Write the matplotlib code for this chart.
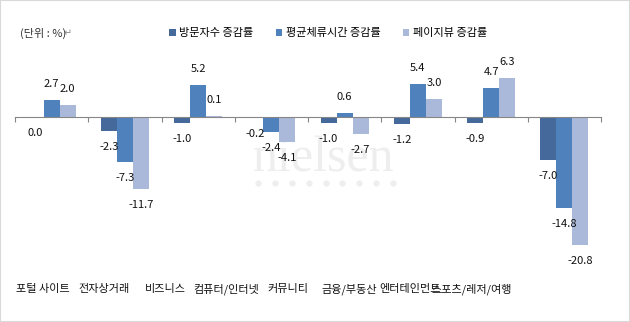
import matplotlib.pyplot as plt
from matplotlib.patches import Rectangle
import numpy as np

plt.rcParams['font.family'] = ['Noto Sans CJK KR', 'DejaVu Sans']

categories = ['포털 사이트', '전자상거래', '비즈니스', '컴퓨터/인터넷',
              '커뮤니티', '금융/부동산', '엔터테인먼트', '스포츠/레저/여행']
series_names = ['방문자수 증감률', '평균체류시간 증감률', '페이지뷰 증감률']
visitors = [0.0, -2.3, -1.0, -0.2, -1.0, -1.2, -0.9, -7.0]
stay_time = [2.7, -7.3, 5.2, -2.4, 0.6, 5.4, 4.7, -14.8]
page_views = [2.0, -11.7, 0.1, -4.1, -2.7, 3.0, 6.3, -20.8]

colors = ['#44699A', '#4F81BD', '#AAB9D9']

W, H = 630, 322
fig = plt.figure(figsize=(W / 100, H / 100), dpi=100)

# plot area in pixels: x 15..601, y 40..260 (zero line at y=117)
ax = fig.add_axes([15 / W, 1 - 260 / H, (601 - 15) / W, (260 - 40) / H])
ax.set_zorder(2)
ax.set_xlim(0, len(categories))
ax.set_ylim(-(260 - 117) / 6.15, (117 - 40) / 6.15)

x = np.arange(len(categories)) + 0.5
bw = 0.219
for i, (vals, c, name) in enumerate(zip([visitors, stay_time, page_views], colors, series_names)):
    xs = x + (i - 1) * bw
    ax.bar(xs, vals, width=bw, color=c, label=name, zorder=2)
    for xi, v in zip(xs, vals):
        off = 11.5 if v > 0 else -11.5
        ax.annotate(f'{v:.1f}', (xi, v), xytext=(0, off), textcoords='offset points',
                    ha='center', va='center', fontsize=8, color='#111111', zorder=4)

for s in ['top', 'right', 'left']:
    ax.spines[s].set_visible(False)
ax.spines['bottom'].set_position(('data', 0))
ax.spines['bottom'].set_color('#868686')
ax.spines['bottom'].set_zorder(3)
ax.set_xticks(np.arange(len(categories) + 1))
ax.set_xticklabels([])
ax.tick_params(axis='x', direction='out', length=3.6, color='#868686')
ax.set_yticks([])
ax.patch.set_visible(False)

# watermark (behind the plot)
fig.text(253 / W, 1 - 172 / H, 'nielsen', fontsize=36, family='Liberation Serif',
         color='#eeeeee', ha='left', va='baseline', zorder=0)
dot_x = np.linspace(258, 393, 9) / W
fig.add_artist(plt.Line2D(dot_x, [1 - 183 / H] * 9, transform=fig.transFigure,
                          linestyle='none', marker='o', markersize=3.5,
                          color='#eeeeee', zorder=0))

# category labels (text row, not aligned with the axis)
for i, cat in enumerate(categories):
    fig.text((43 + 61.2 * i) / W, 1 - 289 / H, cat, ha='center', va='center',
             fontsize=8, color='#111111', zorder=3)

fig.text(20 / W, 1 - 33 / H, '(단위 : %)', ha='left', va='center', fontsize=8, color='#333333')
fig.text(64 / W, 1 - 33 / H, '↵', ha='left', va='center', fontsize=7, color='#888888',
         family=['DejaVu Sans'])

handles, labels = ax.get_legend_handles_labels()
leg = fig.legend(handles, labels, loc='center', bbox_to_anchor=(328 / W, 1 - 33 / H), ncol=3,
                 frameon=False, fontsize=8, handlelength=0.6, handleheight=0.6,
                 handletextpad=0.3, columnspacing=2.0, borderpad=0)
leg.set_zorder(3)

fig.add_artist(Rectangle((0, 0), 1, 1, transform=fig.transFigure, fill=False,
                         edgecolor='#d9d9d9', linewidth=1.5, zorder=3))

fig.savefig('out.png', dpi=100)
